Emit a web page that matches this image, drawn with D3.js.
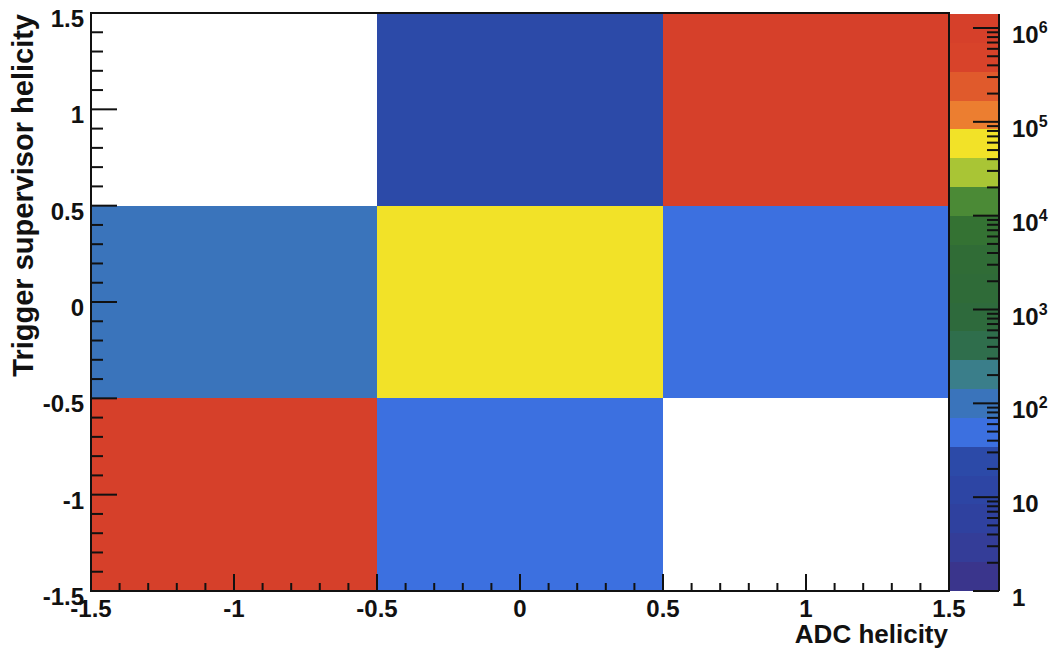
<!DOCTYPE html>
<html>
<head>
<meta charset="utf-8">
<script src="https://cdn.jsdelivr.net/npm/d3@7"></script>
<style>
  html, body { margin: 0; padding: 0; background: #fff; }
  svg text { font-family: "Liberation Sans", Arial, Helvetica, sans-serif; font-weight: bold; fill: #111; }
</style>
</head>
<body>
<svg id="chart" width="1057" height="651"></svg>
<script>
// ---- data ----
const xBins = [-1, 0, 1];            // ADC helicity bin centres
const yBins = [1, 0, -1];            // Trigger supervisor helicity bin centres (rows)
const counts = [                      // counts[row][col]; 0 = empty
  [0, 20, 1410000],
  [100, 60000, 55],
  [1300000, 50, 0]
];
const xTickValues = [-1.5, -1, -0.5, 0, 0.5, 1, 1.5];
const yTickValues = [-1.5, -1, -0.5, 0, 0.5, 1, 1.5];
const tickLabels = ["-1.5", "-1", "-0.5", "0", "0.5", "1", "1.5"];
const zDecades = [0, 1, 2, 3, 4, 5, 6];
const zMax = 1410000;
const nLevels = 20;
const bandColors = [
  "#3a358c", "#343d98", "#2f419f", "#2d45a4", "#2c4aa8",
  "#3c70e0", "#3a74bb", "#3a7e8a", "#2f6e4c", "#2e6a3c",
  "#2f6b38", "#306c36", "#347233", "#4b8a36", "#a9c535",
  "#f2e228", "#ec7e30", "#e05a2c", "#d8432a", "#d6402a"
];
const xTitle = "ADC helicity";
const yTitle = "Trigger supervisor helicity";

// ---- layout ----
const L = 91, R = 949, T = 13, B = 591;
const cbL = 950, cbR = 999, cbT = 14;

const svg = d3.select("#chart");
const x = d3.scaleLinear().domain([-1.5, 1.5]).range([L, R]);
const y = d3.scaleLinear().domain([-1.5, 1.5]).range([B, T]);
const z = d3.scaleLog().domain([1, zMax]).range([B, cbT]);

function bandIndex(v) {
  const k = Math.floor(Math.log10(v) / Math.log10(zMax) * nLevels);
  return Math.max(0, Math.min(nLevels - 1, k));
}

// ---- cells ----
const cells = [];
yBins.forEach((yc, r) => xBins.forEach((xc, c) => cells.push({ xc, yc, v: counts[r][c] })));
svg.append("g").selectAll("rect").data(cells.filter(d => d.v > 0)).join("rect")
  .attr("x", d => x(d.xc - 0.5))
  .attr("y", d => y(d.yc + 0.5))
  .attr("width", d => x(d.xc + 0.5) - x(d.xc - 0.5))
  .attr("height", d => y(d.yc - 0.5) - y(d.yc + 0.5))
  .attr("fill", d => bandColors[bandIndex(d.v)])
  .attr("shape-rendering", "crispEdges");

// ---- color bar ----
const levels = d3.range(nLevels + 1).map(k => Math.pow(zMax, k / nLevels));
svg.append("g").selectAll("rect").data(d3.range(nLevels)).join("rect")
  .attr("x", cbL)
  .attr("width", cbR - cbL)
  .attr("y", k => z(levels[k + 1]))
  .attr("height", k => z(levels[k]) - z(levels[k + 1]))
  .attr("fill", k => bandColors[k])
  .attr("shape-rendering", "crispEdges");

// ---- frame ----
svg.append("rect").attr("x", L).attr("y", T).attr("width", R - L).attr("height", B - T)
  .attr("fill", "none").attr("stroke", "#111").attr("stroke-width", 2);

// ---- x axis ticks (inside) ----
const xMinor = d3.range(-15, 16).map(i => i / 10);
const gx = svg.append("g").attr("stroke", "#111").attr("stroke-width", 2);
gx.selectAll("line").data(xMinor).join("line")
  .attr("x1", d => x(d)).attr("x2", d => x(d))
  .attr("y1", B).attr("y2", d => B - (Math.abs(d * 2 - Math.round(d * 2)) < 1e-6 ? 17 : 8));
svg.append("g").selectAll("text").data(xTickValues).join("text")
  .attr("x", d => x(d)).attr("y", 617)
  .attr("text-anchor", "middle").attr("font-size", 24)
  .text((d, i) => tickLabels[i]);

// ---- y axis ticks (inside) ----
const yMinor = d3.range(-15, 16).map(i => i / 10);
const gy = svg.append("g").attr("stroke", "#111").attr("stroke-width", 2);
gy.selectAll("line").data(yMinor).join("line")
  .attr("y1", d => y(d)).attr("y2", d => y(d))
  .attr("x1", L).attr("x2", d => L + (Math.abs(d * 2 - Math.round(d * 2)) < 1e-6 ? 26 : 12));
svg.append("g").selectAll("text").data(yTickValues).join("text")
  .attr("x", 84).attr("y", d => y(d) + 14)
  .attr("text-anchor", "end").attr("font-size", 24)
  .text((d, i) => tickLabels[i]);

// ---- color bar axis ----
svg.append("line").attr("x1", cbR).attr("x2", cbR).attr("y1", cbT).attr("y2", B)
  .attr("stroke", "#111").attr("stroke-width", 2);
const zMinor = [];
zDecades.forEach(e => { for (let m = 1; m <= 9; m++) { const v = m * Math.pow(10, e); if (v <= zMax) zMinor.push({ v, major: m === 1 }); } });
svg.append("g").attr("stroke", "#111").attr("stroke-width", 2)
  .selectAll("line").data(zMinor).join("line")
  .attr("y1", d => z(d.v)).attr("y2", d => z(d.v))
  .attr("x1", cbR).attr("x2", d => cbR - (d.major ? 26 : 12));
const zl = svg.append("g").selectAll("text").data(zDecades).join("text")
  .attr("x", 1012).attr("y", e => z(Math.pow(10, e)) + 15)
  .attr("font-size", 24);
zl.each(function (e) {
  const t = d3.select(this);
  if (e === 0) t.text("1");
  else if (e === 1) t.text("10");
  else {
    t.append("tspan").text("10");
    t.append("tspan").attr("dy", -10).attr("font-size", 16).text(e);
  }
});

// ---- titles ----
svg.append("text").attr("x", 948).attr("y", 643).attr("text-anchor", "end")
  .attr("font-size", 26).text(xTitle);
svg.append("text").attr("transform", `translate(33,${T + 1}) rotate(-90)`)
  .attr("text-anchor", "end").attr("font-size", 29).text(yTitle);
</script>
</body>
</html>
